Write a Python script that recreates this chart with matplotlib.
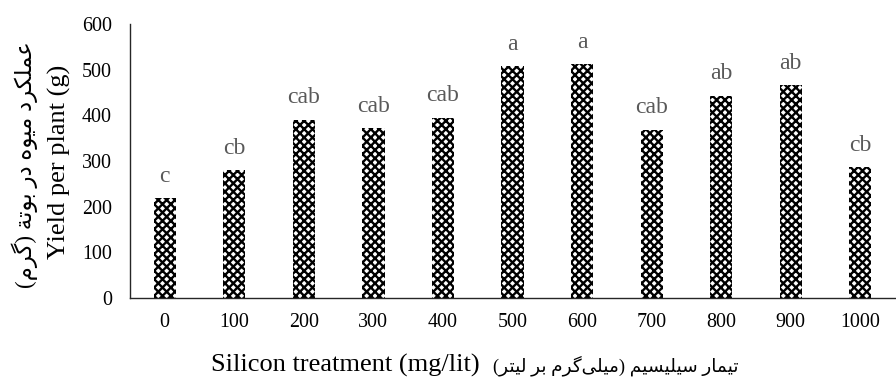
import matplotlib.pyplot as plt
import numpy as np

# --------------------------------------------------------------------------- #
# Data
# --------------------------------------------------------------------------- #
doses = ["0", "100", "200", "300", "400", "500", "600", "700", "800", "900", "1000"]
yields = [219, 280, 390, 372, 395, 507, 512, 368, 443, 466, 286]
letters = ["c", "cb", "cab", "cab", "cab", "a", "a", "cab", "ab", "ab", "cb"]

ylabel_fa = "عملکرد میوه در بوتة (گرم)"
ylabel_en = "Yield per plant (g)"
xlabel_en = "Silicon treatment (mg/lit)"
xlabel_fa = "تیمار سیلیسیم (میلی\u200cگرم بر لیتر)"

# --------------------------------------------------------------------------- #
# Minimal Persian shaping (matplotlib has no bidi / joining support)
# --------------------------------------------------------------------------- #
# char: (isolated, final, initial, medial); right-joining letters have 2 forms
FORMS = {
    "\u0627": (0xFE8D, 0xFE8E),
    "\u0628": (0xFE8F, 0xFE90, 0xFE91, 0xFE92),
    "\u062A": (0xFE95, 0xFE96, 0xFE97, 0xFE98),
    "\u0629": (0xFE93, 0xFE94),
    "\u062F": (0xFEA9, 0xFEAA),
    "\u0631": (0xFEAD, 0xFEAE),
    "\u0633": (0xFEB1, 0xFEB2, 0xFEB3, 0xFEB4),
    "\u0639": (0xFEC9, 0xFECA, 0xFECB, 0xFECC),
    "\u0644": (0xFEDD, 0xFEDE, 0xFEDF, 0xFEE0),
    "\u0645": (0xFEE1, 0xFEE2, 0xFEE3, 0xFEE4),
    "\u0647": (0xFEE9, 0xFEEA, 0xFEEB, 0xFEEC),
    "\u0648": (0xFEED, 0xFEEE),
    "\u06CC": (0xFBFC, 0xFBFD, 0xFBFE, 0xFBFF),
    "\u06A9": (0xFB8E, 0xFB8F, 0xFB90, 0xFB91),
    "\u06AF": (0xFB92, 0xFB93, 0xFB94, 0xFB95),
}
MIRROR = {"(": ")", ")": "("}


def shape_rtl(text: str) -> str:
    """Shape Persian letters and return the string in visual (LTR) order."""
    chars = list(text)
    out = []
    for i, ch in enumerate(chars):
        if ch not in FORMS:
            if ch != "\u200c":
                out.append(MIRROR.get(ch, ch))
            continue
        forms = FORMS[ch]
        prev = chars[i - 1] if i > 0 else ""
        nxt = chars[i + 1] if i + 1 < len(chars) else ""
        join_prev = prev in FORMS and len(FORMS[prev]) == 4
        join_next = len(forms) == 4 and nxt in FORMS
        if join_prev and join_next:
            code = forms[3]
        elif join_prev:
            code = forms[1]
        elif join_next:
            code = forms[2]
        else:
            code = forms[0]
        out.append(chr(code))
    return "".join(reversed(out))


# --------------------------------------------------------------------------- #
# Plot
# --------------------------------------------------------------------------- #
plt.rcParams["font.family"] = ["Liberation Serif", "DejaVu Sans"]
plt.rcParams["hatch.linewidth"] = 1.7

fig = plt.figure(figsize=(8.96, 3.81), dpi=100)
ax = fig.add_axes([0.145, 0.218, 0.854, 0.719])

x = np.arange(len(doses))
ax.bar(x, yields, width=0.32, color="white", edgecolor="black",
       hatch="xxxx", linewidth=0)

for xi, yi, lab in zip(x, yields, letters):
    ax.text(xi, yi + 36, lab, ha="center", va="baseline", fontsize=17,
            color="#595959")

ax.set_xlim(-0.5, len(doses) - 0.5)
ax.set_ylim(0, 600)
ax.set_yticks(range(0, 601, 100))
ax.set_xticks(x)
ax.set_xticklabels(doses)
ax.tick_params(axis="both", length=0, labelsize=14.4, colors="black")
ax.tick_params(axis="y", pad=13)
ax.tick_params(axis="x", pad=11)
for s in ["top", "right"]:
    ax.spines[s].set_visible(False)
for s in ["left", "bottom"]:
    ax.spines[s].set_color("#262626")
    ax.spines[s].set_linewidth(1.0)

fig.text(0.028, 0.567, shape_rtl(ylabel_fa), rotation=90, ha="center",
         va="center", fontsize=16.5)
fig.text(0.066, 0.575, ylabel_en, rotation=90, ha="center", va="center",
         fontsize=19)
fig.text(0.236, 0.024, xlabel_en, ha="left", va="baseline", fontsize=19)
fig.text(0.550, 0.024, shape_rtl(xlabel_fa), ha="left", va="baseline",
         fontsize=13.3)

fig.savefig("out.png", dpi=100)
